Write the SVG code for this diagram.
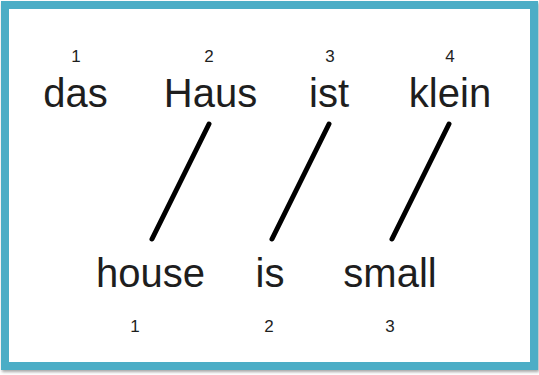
<svg xmlns="http://www.w3.org/2000/svg" width="539" height="375" viewBox="0 0 539 375">
<style>
.w{font-family:"Liberation Sans",Arial,sans-serif;font-size:40px;fill:#1e1e1e;text-anchor:middle}
.n{font-family:"Liberation Sans",Arial,sans-serif;font-size:17px;fill:#1e1e1e;text-anchor:middle}
.c{stroke:#000;stroke-width:5;stroke-linecap:round}
</style>
<defs>
<filter id="sh" x="-5%" y="-5%" width="110%" height="110%">
<feDropShadow dx="1" dy="2" stdDeviation="1.5" flood-color="#000" flood-opacity="0.35"/>
</filter>
</defs>
<rect x="0" y="0" width="539" height="375" fill="#fff"/>
<rect x="5" y="5" width="529" height="361" fill="#fff" stroke="#4badc6" stroke-width="8" filter="url(#sh)"/>
<g id="de1"><text class="n" x="76" y="62">1</text><text class="w" x="75.5" y="107">das</text></g>
<g id="de2"><text class="n" x="209" y="62">2</text><text class="w" x="210.5" y="107">Haus</text></g>
<g id="de3"><text class="n" x="330" y="62">3</text><text class="w" x="329" y="107">ist</text></g>
<g id="de4"><text class="n" x="450" y="62">4</text><text class="w" x="450" y="107">klein</text></g>
<g id="en1"><text class="w" x="150.5" y="287">house</text><text class="n" x="135" y="332">1</text></g>
<g id="en2"><text class="w" x="270" y="287">is</text><text class="n" x="269" y="332">2</text></g>
<g id="en3"><text class="w" x="390" y="287">small</text><text class="n" x="390" y="332">3</text></g>
<g id="connectors">
<line class="c" x1="209" y1="124" x2="152" y2="239"/>
<line class="c" x1="329" y1="124" x2="272" y2="239"/>
<line class="c" x1="449" y1="124" x2="392" y2="239"/>
</g>
</svg>
